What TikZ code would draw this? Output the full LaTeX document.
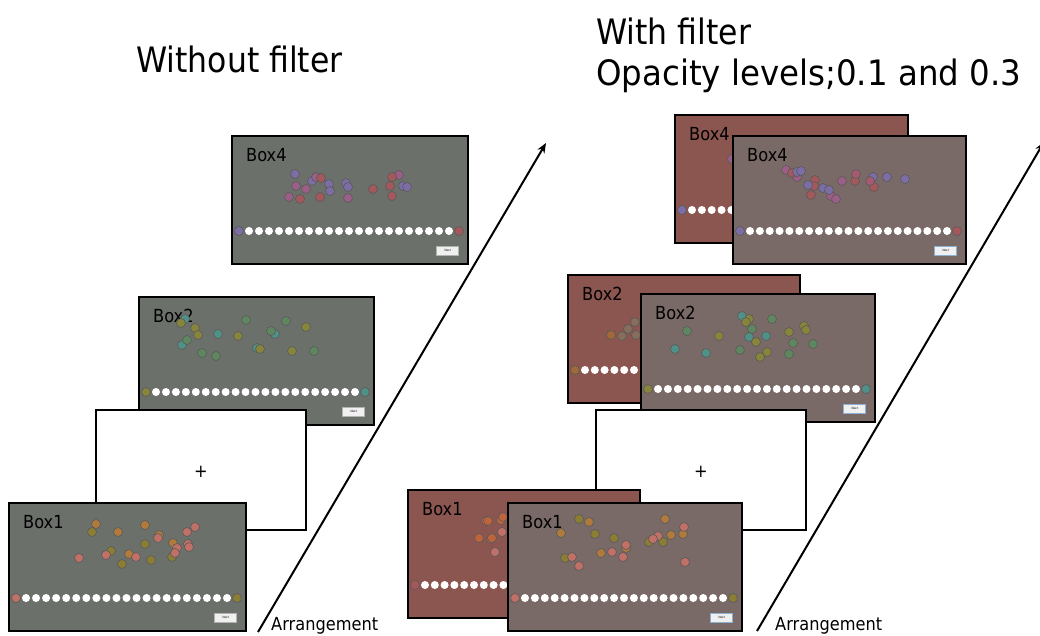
\documentclass[tikz,border=0pt]{standalone}
\usepackage{fontspec}
\setmainfont{DejaVu Sans}[FakeStretch=0.9]
\usetikzlibrary{arrows.meta}
\definecolor{scrgray}{RGB}{108,112,107}
\definecolor{scrred}{RGB}{139,86,80}
\definecolor{scrmix}{RGB}{122,106,103}
\definecolor{cpu}{RGB}{124,110,165}
\definecolor{cmg}{RGB}{155,95,135}
\definecolor{crd}{RGB}{165,88,92}
\definecolor{crm}{RGB}{165,90,112}
\definecolor{cte}{RGB}{80,145,135}
\definecolor{col}{RGB}{135,132,60}
\definecolor{cgr}{RGB}{95,135,95}
\definecolor{cor}{RGB}{175,122,60}
\definecolor{col2}{RGB}{138,125,52}
\definecolor{csa}{RGB}{192,112,102}
\definecolor{cbr}{RGB}{135,110,92}
\definecolor{cob}{RGB}{160,105,55}
\definecolor{cro}{RGB}{190,100,60}
\definecolor{btnedge}{RGB}{140,175,210}
\newcommand\titlefont{\fontsize{35}{40}\selectfont}
\newcommand\boxfont{\fontsize{18}{20}\selectfont}
\newcommand\arrfont{\fontsize{18}{20}\selectfont}
\tikzset{
  screen/.style={draw=black, line width=2.1pt, anchor=north west, minimum height=128pt, inner sep=0pt, outer sep=0pt},
  dotc/.style={draw=black!65, line width=0.6pt},
  nextbtn/.style={draw=#1, fill=gray!12, line width=0.6pt, minimum width=22pt, minimum height=9pt, inner sep=0pt, font=\fontsize{3}{3}\selectfont},
  arr/.style={-{Stealth[length=10pt,width=8pt]}, line width=2pt},
}
% #1 name, #2 x, #3 y, #4 width, #5 fill, #6 label, #7 left dot, #8 right dot, #9 button edge
\newcommand\screenbox[9]{%
  \node[screen, fill=#5, minimum width=#4pt] (#1) at (#2,#3) {};
  \begin{scope}[shift={(#2,#3)}]
    \node[anchor=base west, font=\boxfont, inner sep=0pt] (#1-lab) at (14,25) {#6};
    \foreach \i in {0,...,20} \fill[white] ({17+\i*(#4-36)/20},95) circle (4);
    \filldraw[dotc, fill=#7] (7,95) circle (4.5);
    \filldraw[dotc, fill=#8] ({#4-9},95) circle (4.5);
    \node[nextbtn=#9, anchor=north east] (#1-next) at ({#4-9},110) {Next};
  \end{scope}
}
\newcommand\scatter[2]{\foreach \px/\py in {#2} \filldraw[dotc, fill=#1] (\px,\py) circle (4.5);}
\begin{document}
\begin{tikzpicture}[x=1pt,y=-1pt]
\useasboundingbox (0,0) rectangle (1040,635);
\clip (0,0) rectangle (1040,635);

% titles
\node[anchor=base west, font=\titlefont, inner sep=0pt] (t1) at (136,72) {Without filter};
\node[anchor=base west, font=\titlefont, inner sep=0pt] (t2) at (596,44) {With filter};
\node[anchor=base west, font=\titlefont, inner sep=0pt, xscale=1.03] (t3) at (596,85) {Opacity levels;0.1 and 0.3};

% ===== left sequence =====
\screenbox{L4}{232}{136}{236}{scrgray}{Box4}{cpu}{crd}{gray!60}
\scatter{cpu}{295/174,312/181,329/184,330/191,346/183,348/187,403/186,407/187}
\scatter{cmg}{316/177,296/186,306/189,289/197,348/198,399/175}
\scatter{crd}{321/178,300/199,320/197,373/189,392/177,390/186,392/196}

\screenbox{L2}{139}{297}{235}{scrgray}{Box2}{col}{cte}{gray!60}
\scatter{cte}{185/319,182/345,218/334,257/348,275/334}
\scatter{col}{181/323,195/328,198/335,238/336,260/349,306/327,292/351}
\scatter{cgr}{187/340,202/353,216/356,246/320,271/331,286/321,314/351}

\node[screen, fill=white, minimum width=210pt, minimum height=120pt] (LB) at (96,410) {};
\node[font=\boxfont, inner sep=0pt] (LBplus) at (201,472) {+};

\screenbox{L1}{9}{503}{237}{scrgray}{Box1}{csa}{col2}{gray!60}
\scatter{cor}{96/524,118/532,145/525,159/535,173/543,129/554}
\scatter{col2}{92/532,145/544,172/557,111/551,151/560,122/564}
\scatter{csa}{158/538,187/532,195/527,177/548,175/553,188/544,189/547,79/558,106/555,136/557}

\coordinate (La) at (258,632);
\coordinate (Lb) at (546,143);
\draw[arr] (La) -- (Lb);
\node[anchor=base west, font=\arrfont, inner sep=0pt] (Larr) at (271,630) {Arrangement};

% ===== right sequence =====
\screenbox{R4r}{675}{115}{233}{scrred}{Box4}{cpu}{crd}{btnedge}
\scatter{cmg}{732/159}
\screenbox{R4}{733}{136}{233}{scrmix}{Box4}{cpu}{crd}{btnedge}
\scatter{cmg}{786/170,797/177,831/196,836/199,842/181}
\scatter{crd}{792/173,815/180,814/186,811/195,855/181,874/187}
\scatter{cpu}{797/172,801/171,808/185,823/188,829/190,873/177,887/177,905/179}
\scatter{crm}{856/174,870/181}

\screenbox{R2r}{568}{275}{232}{scrred}{Box2}{cob}{cte}{btnedge}
\scatter{cbr}{635/322,628/329,622/336,636/335}
\scatter{cob}{611/335}
\screenbox{R2}{641}{294}{234}{scrmix}{Box2}{col}{cte}{btnedge}
\scatter{cte}{742/316,749/337,766/336,675/349,706/353}
\scatter{col}{749/319,746/322,756/342,767/352,789/332,804/326,806/330,719/336,760/357}
\scatter{cgr}{752/329,740/350,772/319,793/343,789/354,813/344,687/331}

\node[screen, fill=white, minimum width=210pt, minimum height=120pt] (RB) at (596,410) {};
\node[font=\boxfont, inner sep=0pt] (RBplus) at (701,472) {+};

\screenbox{R1r}{408}{490}{232}{scrred}{Box1}{crd}{col2}{btnedge}
\scatter{cro}{486/521,488/521,501/520,503/517,479/538,491/539,492/538}
\scatter{csa}{502/532,495/552}
\screenbox{R1}{508}{503}{234}{scrmix}{Box1}{csa}{col2}{btnedge}
\scatter{col2}{579/519,595/534,614/538,565/558,649/542,663/542}
\scatter{cor}{589/522,561/533,626/548,601/553,665/519,683/534,671/535}
\scatter{csa}{626/545,612/552,623/557,572/557,579/566,684/527,658/536,653/539,685/562}

\coordinate (Ra) at (757,631);
\coordinate (Rb) at (1044,142);
\draw[arr] (Ra) -- (Rb);
\node[anchor=base west, font=\arrfont, inner sep=0pt] (Rarr) at (775,630) {Arrangement};
\end{tikzpicture}
\end{document}
